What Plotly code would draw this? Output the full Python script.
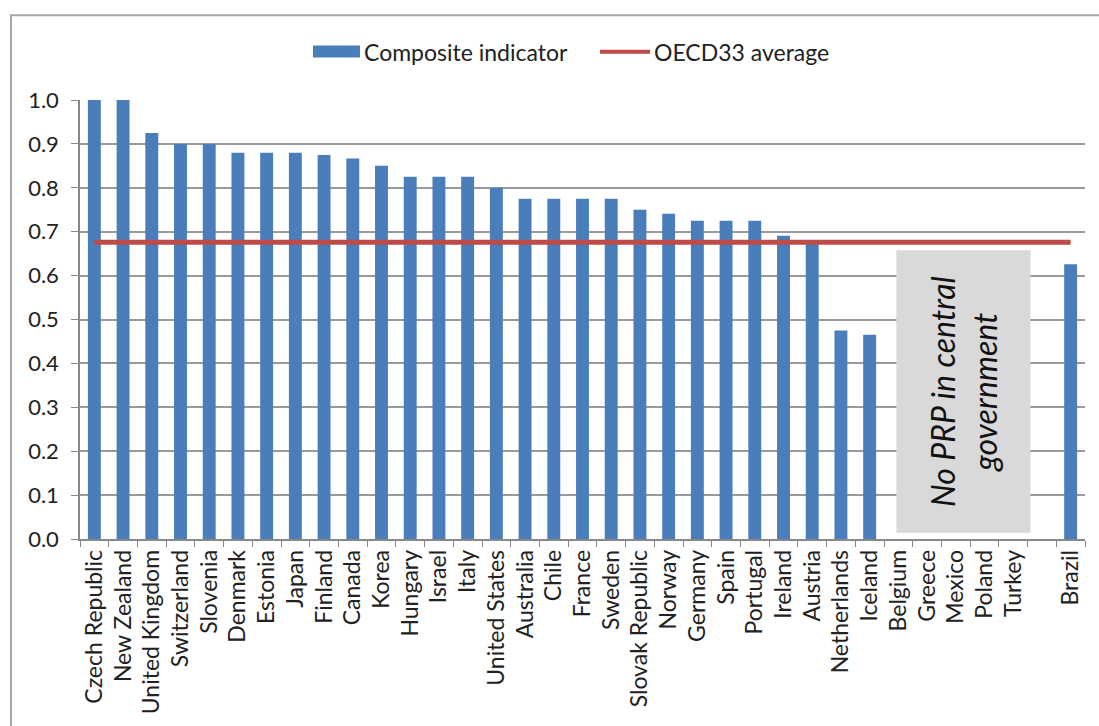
import plotly.graph_objects as go

countries = ["Czech Republic", "New Zealand", "United Kingdom", "Switzerland", "Slovenia",
             "Denmark", "Estonia", "Japan", "Finland", "Canada", "Korea", "Hungary", "Israel",
             "Italy", "United States", "Australia", "Chile", "France", "Sweden", "Slovak Republic",
             "Norway", "Germany", "Spain", "Portugal", "Ireland", "Austria", "Netherlands",
             "Iceland", "Belgium", "Greece", "Mexico", "Poland", "Turkey", " ", "Brazil"]
composite = [1.0, 1.0, 0.925, 0.9, 0.9,
             0.88, 0.88, 0.88, 0.875, 0.867, 0.85, 0.825, 0.825,
             0.825, 0.8, 0.775, 0.775, 0.775, 0.775, 0.75,
             0.741, 0.725, 0.725, 0.725, 0.691, 0.672, 0.475,
             0.465, None, None, None, None, None, None, 0.626]
oecd_average = 0.676
y_ticks = [0.0, 0.1, 0.2, 0.3, 0.4, 0.5, 0.6, 0.7, 0.8, 0.9, 1.0]
series_names = ["Composite indicator", "OECD33 average"]
note_text = "No PRP in central<br>government"

BLUE = "#4a7ebb"
RED = "#be4b48"
FONT = "Lato"
fig = go.Figure()
fig.add_trace(go.Bar(x=countries, y=composite, name=series_names[0], showlegend=False,
                     marker=dict(color=BLUE, line=dict(width=0))))
fig.add_trace(go.Scatter(x=countries, y=[oecd_average] * len(countries), mode="lines",
                         name=series_names[1], showlegend=False,
                         line=dict(color=RED, width=5)))

# grey "no PRP" box over Belgium..Turkey slots
fig.add_shape(type="rect", xref="x", yref="y", x0=27.93, x1=32.6, y0=0.014, y1=0.658,
              fillcolor="#d9d9d9", line=dict(width=0), layer="above")
fig.add_annotation(x=30.27, y=0.336, xref="x", yref="y", text="<i>" + note_text + "</i>",
                   textangle=-90, showarrow=False,
                   font=dict(family=FONT, size=32, color="#111111"))
# outer chart border
fig.add_shape(type="rect", xref="paper", yref="paper", x0=-0.0687, x1=1.2, y0=-0.6, y1=1.193,
              line=dict(color="#a6a6a6", width=2), fillcolor="rgba(0,0,0,0)", layer="below")

# legend (drawn to match the wide swatches of the original)
fig.add_shape(type="rect", xref="paper", yref="paper", x0=0.2318, x1=0.2786, y0=1.097, y1=1.124,
              fillcolor=BLUE, line=dict(width=0))
fig.add_annotation(x=0.2806, y=1.110, xref="paper", yref="paper", text=series_names[0],
                   showarrow=False, xanchor="left", yanchor="middle",
                   font=dict(family=FONT, size=23, color="#222222"))
fig.add_shape(type="line", xref="paper", yref="paper", x0=0.5174, x1=0.5672, y0=1.110, y1=1.110,
              line=dict(color=RED, width=4))
fig.add_annotation(x=0.5691, y=1.110, xref="paper", yref="paper", text=series_names[1],
                   showarrow=False, xanchor="left", yanchor="middle",
                   font=dict(family=FONT, size=23, color="#222222"))

fig.update_layout(
    width=1099, height=726,
    margin=dict(l=80, r=14, t=100, b=185),
    paper_bgcolor="white", plot_bgcolor="white",
    bargap=0.55,
    font=dict(family=FONT, size=20, color="#222222"),
    showlegend=False,
)
fig.update_xaxes(type="category", categoryorder="array", categoryarray=countries,
                 range=[-0.5, len(countries) - 0.5], tickangle=-90,
                 tickson="boundaries", ticks="outside", ticklen=6, tickcolor="#888888",
                 showline=True, linecolor="#888888", linewidth=1.5, showgrid=False,
                 tickfont=dict(size=23))
fig.update_yaxes(range=[0, 1.0], tickvals=y_ticks, tickformat=".1f",
                 ticks="outside", ticklen=7, tickcolor="#888888",
                 showline=True, linecolor="#888888", linewidth=1.5,
                 showgrid=True, gridcolor="#9a9a9a", gridwidth=1.5, zeroline=False,
                 tickfont=dict(size=22), ticklabelstandoff=8)

fig.write_html("out.html")
